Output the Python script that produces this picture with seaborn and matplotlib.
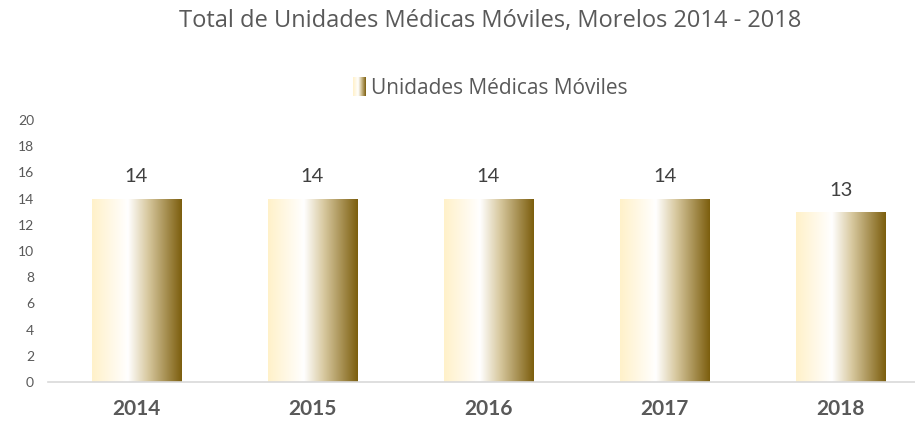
import numpy as np
import pandas as pd
import matplotlib
matplotlib.use("Agg")
import matplotlib.pyplot as plt
from matplotlib.colors import LinearSegmentedColormap
import seaborn as sns

years = ["2014", "2015", "2016", "2017", "2018"]
unidades = [14, 14, 14, 14, 13]
serie = "Unidades Médicas Móviles"
titulo = "Total de Unidades Médicas Móviles, Morelos 2014 - 2018"
yticks = [0, 2, 4, 6, 8, 10, 12, 14, 16, 18, 20]

df = pd.DataFrame({"Año": years, "Unidades": unidades})

sns.set_theme(style="white")
plt.rcParams["font.family"] = ["Lato", "DejaVu Sans"]

gold = LinearSegmentedColormap.from_list(
    "gold", [(0.0, "#FFF1C9"), (0.40, "#FFFFFF"), (0.62, "#D8C9A0"), (1.0, "#7C5E0E")]
)
grad = np.linspace(0, 1, 256).reshape(1, -1)

fig = plt.figure(figsize=(9.15, 4.26), dpi=100)
ax = fig.add_axes([48 / 915, (426 - 382) / 426, (929 - 48) / 915, 262 / 426])

sns.barplot(data=df, x="Año", y="Unidades", ax=ax, width=0.506,
            color="#C9B27A", label=serie, saturation=1)

ax.set_ylim(0, 20)
ax.set_xlim(-0.5, 4.5)
ax.set_yticks(yticks)
ax.set_xlabel("")
ax.set_ylabel("")
for s in ["top", "right", "left"]:
    ax.spines[s].set_visible(False)
ax.spines["bottom"].set_color("#D9D9D9")
ax.spines["bottom"].set_linewidth(1.2)
ax.tick_params(axis="y", length=0, labelsize=10, labelcolor="#595959", pad=10)
ax.tick_params(axis="x", length=0, labelsize=15, labelcolor="#595959", pad=12)
for t in ax.get_xticklabels():
    t.set_fontweight("bold")

# gradient fill clipped to each bar
for p in list(ax.patches):
    x0, y0 = p.get_x(), p.get_y()
    w, h = p.get_width(), p.get_height()
    im = ax.imshow(grad, cmap=gold, aspect="auto", extent=[x0, x0 + w, y0, y0 + h],
                   zorder=p.get_zorder() + 0.1)
    im.set_clip_path(p)
    ax.text(x0 + w / 2, h + 1.0, f"{h:g}", ha="center", va="bottom",
            fontsize=14.5, color="#404040")
ax.set_xlim(-0.5, 4.5)
ax.set_ylim(0, 20)

# title and legend are centred over the plot area
cx = 490 / 915
fig.text(cx, 1 - 21 / 426, titulo, ha="center", va="center", fontsize=17,
         color="#595959", family=["Open Sans", "DejaVu Sans"])

leg = ax.legend(loc="center", bbox_to_anchor=(cx, 1 - 88 / 426), bbox_transform=fig.transFigure,
                frameon=False, handlelength=0.6, handleheight=1.0,
                handletextpad=0.25, labelcolor="#595959",
                prop={"family": ["Open Sans", "DejaVu Sans"], "size": 15})
fig.canvas.draw()
h = leg.legend_handles[0]
bb = h.get_window_extent().transformed(fig.transFigure.inverted())
h.set_alpha(0)
lax = fig.add_axes([bb.x0, bb.y0, bb.width, bb.height])
lax.imshow(grad, cmap=gold, aspect="auto")
lax.set_axis_off()

fig.savefig("out.png", dpi=100)
